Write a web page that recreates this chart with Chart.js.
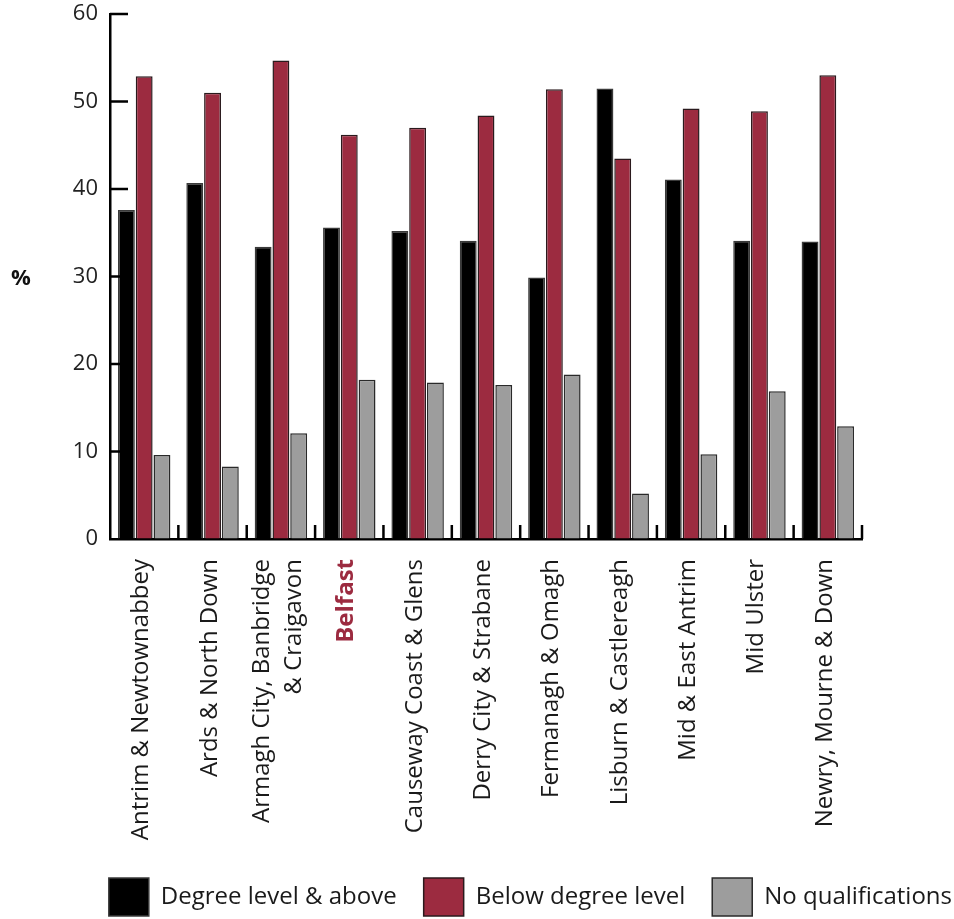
<!DOCTYPE html>
<html>
<head>
<meta charset="utf-8">
<script src="https://cdn.jsdelivr.net/npm/chart.js@4.4.1/dist/chart.umd.min.js"></script>
<style>
  html, body { margin: 0; padding: 0; background: #ffffff; }
  #wrap { width: 954px; height: 919px; }
</style>
</head>
<body>
<div id="wrap"><canvas id="chart" width="954" height="919"></canvas></div>
<script>
// Highest qualification by council area (%)
const councils = [
  'Antrim & Newtownabbey',
  'Ards & North Down',
  ['Armagh City, Banbridge', '& Craigavon'],
  'Belfast',
  'Causeway Coast & Glens',
  'Derry City & Strabane',
  'Fermanagh & Omagh',
  'Lisburn & Castlereagh',
  'Mid & East Antrim',
  'Mid Ulster',
  'Newry, Mourne & Down'
];
const degreeAndAbove = [37.6, 40.7, 33.4, 35.6, 35.2, 34.1, 29.9, 51.5, 41.1, 34.1, 34.0];
const belowDegree    = [52.9, 51.0, 54.7, 46.2, 47.0, 48.4, 51.4, 43.5, 49.2, 48.9, 53.0];
const noQualifications = [9.6, 8.3, 12.1, 18.2, 17.9, 17.6, 18.8, 5.2, 9.7, 16.9, 12.9];
const seriesNames = ['Degree level & above', 'Below degree level', 'No qualifications'];
const yTickValues = [0, 10, 20, 30, 40, 50, 60];
const highlightCouncil = 'Belfast';

const RED = '#9c2b40';
const GREY = '#9d9d9d';
const INK = '#1a1a1a';

// Short inward tick marks on both axes, plus the "%" unit label
const axisMarks = {
  id: 'axisMarks',
  afterDatasetsDraw(chart) {
    const { ctx, chartArea, scales } = chart;
    const x = scales.x, y = scales.y;
    ctx.save();
    ctx.strokeStyle = '#000';
    ctx.lineWidth = 2.5;
    ctx.beginPath();
    yTickValues.forEach(v => {
      if (v === 0) return;
      const py = y.getPixelForValue(v);
      ctx.moveTo(chartArea.left, py);
      ctx.lineTo(chartArea.left + 18, py);
    });
    const n = councils.length;
    const step = (x.right - x.left) / n;
    for (let i = 0; i < n; i++) {
      const px = x.getPixelForValue(i) + step / 2;
      ctx.moveTo(px, chartArea.bottom);
      ctx.lineTo(px, chartArea.bottom - 14);
    }
    ctx.stroke();
    ctx.fillStyle = '#111';
    ctx.font = 'bold 22px "Open Sans"';
    ctx.textAlign = 'center';
    ctx.textBaseline = 'middle';
    ctx.fillText('%', 21, y.getPixelForValue(29.8));
    ctx.restore();
  }
};

const barStyle = { borderWidth: 1.5, categoryPercentage: 0.78, barPercentage: 0.95 };
const isTwoLine = i => Array.isArray(councils[i]);

new Chart(document.getElementById('chart'), {
  type: 'bar',
  data: {
    labels: councils,
    datasets: [
      Object.assign({ label: seriesNames[0], data: degreeAndAbove, backgroundColor: '#000000', borderColor: '#3a3a3a' }, barStyle),
      Object.assign({ label: seriesNames[1], data: belowDegree, backgroundColor: RED, borderColor: '#2a1a1d' }, barStyle),
      Object.assign({ label: seriesNames[2], data: noQualifications, backgroundColor: GREY, borderColor: '#2a2a2a' }, barStyle)
    ]
  },
  options: {
    responsive: false,
    animation: false,
    devicePixelRatio: 1,
    layout: { padding: { left: 0, right: -25, top: 14, bottom: -7 } },
    plugins: {
      tooltip: { enabled: false },
      legend: {
        position: 'bottom',
        align: 'end',
        labels: {
          boxWidth: 40,
          boxHeight: 38,
          padding: 27,
          color: INK,
          font: { family: "'Open Sans'", size: 24 }
        }
      }
    },
    scales: {
      x: {
        grid: { display: false, drawTicks: false },
        border: { display: true, color: '#000', width: 2.5 },
        ticks: {
          autoSkip: false,
          minRotation: 90,
          maxRotation: 90,
          padding: 20,
          // single-line labels sit half a line right of the tick, the two-line label is centred
          // on its tick as a block; a shared offset brings both back under their bars
          showLabelBackdrop: ctx => !isTwoLine(ctx.index),
          backdropColor: 'rgba(0,0,0,0)',
          labelOffset: -19,
          color: ctx => (councils[ctx.index] === highlightCouncil ? RED : INK),
          font: ctx => ({
            family: "'Open Sans'",
            size: 24,
            lineHeight: 1.35,
            weight: councils[ctx.index] === highlightCouncil ? 'bold' : 'normal'
          })
        },
        afterFit: s => { s.height = 312; }
      },
      y: {
        min: 0,
        max: 60,
        afterBuildTicks: s => { s.ticks = yTickValues.map(v => ({ value: v })); },
        // outer tick space keeps labels clear of the axis; the marks themselves are invisible
        grid: { display: true, drawOnChartArea: false, drawTicks: true, tickLength: 12, tickColor: 'rgba(0,0,0,0)' },
        border: { display: true, color: '#000', width: 2.5 },
        ticks: {
          padding: 0,
          color: '#222',
          font: { family: "'Open Sans'", size: 22 }
        },
        afterFit: s => { s.width = 110; }
      },
      yRight: {
        position: 'right',
        display: true,
        grid: { display: false, drawTicks: false },
        border: { display: false },
        ticks: { display: false },
        afterFit: s => { s.width = 117; }
      }
    }
  },
  plugins: [axisMarks]
});
</script>
</body>
</html>
